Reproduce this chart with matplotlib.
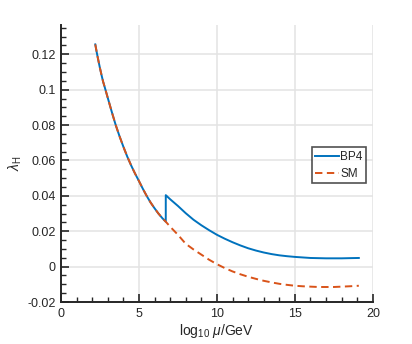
import numpy as np
import matplotlib
matplotlib.use('Agg')
import matplotlib.pyplot as plt
from matplotlib.ticker import MultipleLocator

plt.rcParams['font.family'] = ['Liberation Sans', 'DejaVu Sans']
plt.rcParams['mathtext.fontset'] = 'custom'
plt.rcParams['mathtext.rm'] = 'Liberation Sans'
plt.rcParams['mathtext.it'] = 'Liberation Sans:italic'

# valores (tramo comun antes del salto)
comun_x = [2.2, 2.3, 2.4, 2.5, 2.6, 2.7, 2.8, 2.9, 3.0, 3.25, 3.5, 3.75, 4.0, 4.25,
           4.5, 4.75, 5.0, 5.25, 5.5, 5.75, 6.0, 6.25, 6.5, 6.72]
comun_y = [0.1256, 0.1208, 0.1164, 0.1122, 0.1083, 0.1046, 0.1016, 0.0985, 0.0954,
           0.0877, 0.0803, 0.0738, 0.0678, 0.0622, 0.0572, 0.0526, 0.0484, 0.0440,
           0.0399, 0.0362, 0.0330, 0.0300, 0.0274, 0.0254]

sm_x2 = [7.0, 7.5, 8.0, 8.5, 9.0, 9.5, 10.0, 10.5, 11.0, 11.5, 12.0, 12.5, 13.0, 13.5,
         14.0, 14.5, 15.0, 15.5, 16.0, 16.5, 17.0, 17.5, 18.0, 18.5, 19.1]
sm_y2 = [0.0226, 0.0180, 0.0129, 0.0097, 0.0068, 0.0039, 0.0014, -0.0008, -0.0027,
         -0.0043, -0.0057, -0.0069, -0.0080, -0.0089, -0.0097, -0.0103, -0.0108,
         -0.0111, -0.0113, -0.0115, -0.0115, -0.0115, -0.0113, -0.0111, -0.0108]

bp4_x2 = [6.72, 7.0, 7.5, 8.0, 8.5, 9.0, 9.5, 10.0, 10.5, 11.0, 11.5, 12.0, 12.5, 13.0,
          13.5, 14.0, 14.5, 15.0, 15.5, 16.0, 16.5, 17.0, 17.5, 18.0, 18.5, 19.1]
bp4_y2 = [0.0404, 0.0381, 0.0343, 0.0302, 0.0265, 0.0234, 0.0206, 0.0180, 0.0158,
          0.0138, 0.0120, 0.0104, 0.0091, 0.0080, 0.0071, 0.0064, 0.0059, 0.0055,
          0.0052, 0.0049, 0.0048, 0.0047, 0.0047, 0.0047, 0.0048, 0.0049]

sm_x = comun_x + sm_x2
sm_y = comun_y + sm_y2
bp4_x = comun_x + bp4_x2
bp4_y = comun_y + bp4_y2

azul = '#0072BD'
naranja = '#D95319'
gris = '#262626'

fig = plt.figure(figsize=(4.12, 3.44), dpi=100)
ax = fig.add_axes([0.148, 0.122, 0.757, 0.805])

ax.plot(bp4_x, bp4_y, color=azul, lw=1.4, label='BP4')
ax.plot(sm_x, sm_y, color=naranja, lw=1.4, ls=(0, (3.8, 2.3)), label='SM')

ax.set_xlim(0, 20)
ax.set_ylim(-0.02, 0.1365)
ax.xaxis.set_major_locator(MultipleLocator(5))
ax.xaxis.set_minor_locator(MultipleLocator(1))
ax.yaxis.set_minor_locator(MultipleLocator(0.005))
ax.set_yticks(np.arange(-0.02, 0.121, 0.02))
ax.set_yticklabels(['-0.02', '0', '0.02', '0.04', '0.06', '0.08', '0.1', '0.12'])

ax.grid(True, which='major', color='#e3e3e3', lw=1.1)
ax.set_axisbelow(True)
for s in ['top', 'right']:
    ax.spines[s].set_visible(False)
for s in ['left', 'bottom']:
    ax.spines[s].set_linewidth(1.4)
    ax.spines[s].set_color(gris)

ax.tick_params(which='major', direction='in', length=6, width=1.2, colors=gris,
               labelsize=9, pad=4)
ax.tick_params(which='minor', direction='in', length=3.3, width=1.0, colors=gris)

ax.set_xlabel(r'log$_{10}$ $\mu$/GeV', fontsize=10, color=gris, labelpad=2)
ax.set_ylabel(r'$\lambda_{\rm H}$', fontsize=10, color=gris, labelpad=2)

leg = ax.legend(loc='upper left', bbox_to_anchor=(0.8035, 0.5585), fontsize=8.5,
                frameon=True, fancybox=False, handlelength=2.0, handletextpad=0.15,
                borderpad=0.3, labelspacing=0.4, borderaxespad=0)
leg.get_frame().set_edgecolor(gris)
leg.get_frame().set_linewidth(1.2)
for t in leg.get_texts():
    t.set_color(gris)

fig.savefig('out.png', dpi=100)
